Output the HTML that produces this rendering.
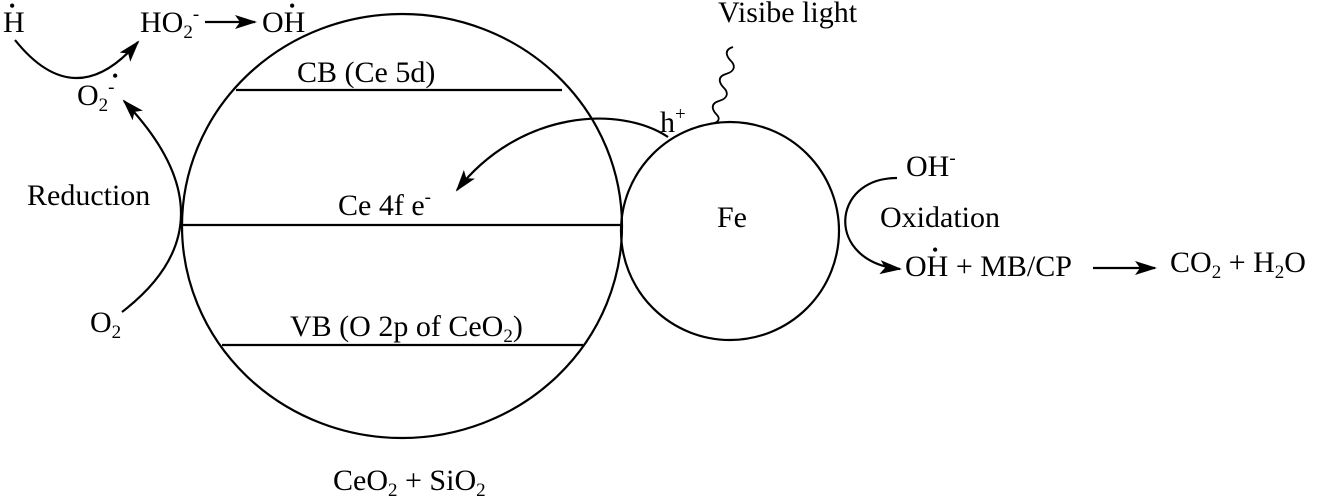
<!DOCTYPE html>
<html><head><meta charset="utf-8"><style>
html,body{margin:0;padding:0;background:#fff;}
svg{display:block;}
text{font-family:"Liberation Serif",serif;font-size:30px;fill:#000;}
.s{font-size:19px;}
.d{font-size:18px;}
</style></head><body>
<svg width="1320" height="501" viewBox="0 0 1320 501">
<defs>
<marker id="b" markerWidth="22" markerHeight="14" refX="20" refY="7" orient="auto" markerUnits="userSpaceOnUse"><path d="M0,0 L22,7 L0,14 L5,7 Z" fill="#000"/></marker>
</defs>
<g fill="none" stroke="#000" stroke-width="2.2">
<ellipse cx="402" cy="226" rx="220" ry="212"/>
<circle cx="730" cy="231" r="109"/>
<line x1="236" y1="90" x2="562" y2="90"/>
<line x1="182" y1="225" x2="622" y2="225"/>
<line x1="222" y1="345" x2="583" y2="345"/>
<path d="M15,40 Q75,115 138,42" marker-end="url(#b)"/>
<path d="M122,312 Q239,222 124,101" marker-end="url(#b)"/>
<line x1="205" y1="22" x2="255" y2="22" marker-end="url(#b)"/>
<path d="M668,137 C620,105 520,110 457,190" marker-end="url(#b)"/>
<path d="M897,178 C830,178 825,262 900,269" marker-end="url(#b)"/>
<line x1="1093" y1="268" x2="1155" y2="268" marker-end="url(#b)"/>
<path d="M733,47 c-10,3 -6,10 -2,14 c4,4 5,10 -5,13 c-10,3 -6,10 -2,14 c4,4 5,10 -5,13 c-10,3 -6,10 -2,14 c3,3 2,7 -3,8" stroke-width="1.8"/>
</g>
<text x="3" y="32">H</text><text x="9" y="12" class="d">•</text>
<text x="140" y="32">HO<tspan dy="6" class="s">2</tspan><tspan dy="-18" class="s">-</tspan></text>
<text x="262" y="32">OH</text><text x="289" y="12" class="d">•</text>
<text x="77" y="105">O<tspan dy="6" class="s">2</tspan><tspan dy="-18" class="s">-</tspan></text><text x="112" y="82" class="d">•</text>
<text x="27" y="205">Reduction</text>
<text x="90" y="332">O<tspan dy="6" class="s">2</tspan></text>
<text x="297" y="82">CB (Ce 5d)</text>
<text x="338" y="215">Ce 4f  e<tspan dy="-12" class="s">-</tspan></text>
<text x="290" y="336">VB (O 2p of CeO<tspan dy="6" class="s">2</tspan><tspan dy="-6">)</tspan></text>
<text x="333" y="490">CeO<tspan dy="6" class="s">2</tspan><tspan dy="-6"> + SiO</tspan><tspan dy="6" class="s">2</tspan></text>
<text x="717" y="227">Fe</text>
<text x="660" y="132">h<tspan dy="-12" class="s">+</tspan></text>
<text x="718" y="22">Visibe light</text>
<text x="906" y="176">OH<tspan dy="-12" class="s">-</tspan></text>
<text x="880" y="227">Oxidation</text>
<text x="905" y="276">OH + MB/CP</text><text x="932" y="256" class="d">•</text>
<text x="1170" y="272">CO<tspan dy="6" class="s">2</tspan><tspan dy="-6"> + H</tspan><tspan dy="6" class="s">2</tspan><tspan dy="-6">O</tspan></text>
</svg>
</body></html>
